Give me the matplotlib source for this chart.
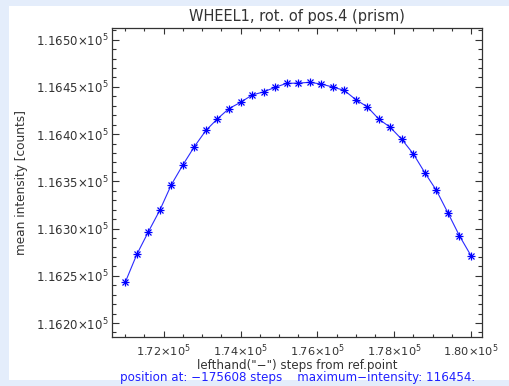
import matplotlib
matplotlib.use("Agg")
import matplotlib.pyplot as plt
from matplotlib.patches import Rectangle
from matplotlib.ticker import MultipleLocator, FuncFormatter

# ---- data ----
steps = [171000 + 300 * i for i in range(31)]
intensity = [116243.2, 116272.6, 116296.5, 116319.5, 116346.5, 116367.4,
             116386.8, 116403.9, 116416.2, 116427.0, 116433.6, 116441.3,
             116444.7, 116449.5, 116453.7, 116454.0, 116454.8, 116453.0,
             116449.8, 116446.3, 116436.5, 116428.9, 116415.9, 116407.1,
             116394.4, 116379.0, 116359.0, 116340.4, 116316.6, 116292.3,
             116271.3]
title = "WHEEL1, rot. of pos.4 (prism)"
xlabel = 'lefthand("\u2212") steps from ref.point'
ylabel = "mean intensity [counts]"
footer = "position at: \u2212175608 steps    maximum\u2212intensity: 116454."

W, H = 510, 386
fig = plt.figure(figsize=(W / 100, H / 100), dpi=100)
fig.patch.set_facecolor("#e4edfb")
fig.patches.append(Rectangle((9 / W, 1 - 380 / H), (W - 9) / W, (380 - 6) / H,
                             transform=fig.transFigure, facecolor="white",
                             edgecolor="none", zorder=-10))

l, r, t, b = 112.3, 481.7, 28.3, 336.7
ax = fig.add_axes([l / W, 1 - b / H, (r - l) / W, (b - t) / H])
ax.set_facecolor("white")

ax.plot(steps, intensity, color="#2a2aff", lw=0.8, zorder=2)
ax.plot(steps, intensity, ls="none", marker="+", ms=5.5, mew=0.9, color="#0000ff", zorder=3)
ax.plot(steps, intensity, ls="none", marker="x", ms=4.2, mew=0.9, color="#0000ff", zorder=3)

ax.set_xlim(170662, 180279)
ax.set_ylim(116185.5, 116512)

ax.xaxis.set_major_locator(MultipleLocator(2000))
ax.xaxis.set_minor_locator(MultipleLocator(500))
ax.yaxis.set_major_locator(MultipleLocator(50))
ax.yaxis.set_minor_locator(MultipleLocator(10))

def xfmt(v, pos):
    return r"$%.2f{\times}10^{5}$" % (v / 1e5)

def yfmt(v, pos):
    return r"$%.4f{\times}10^{5}$" % (v / 1e5)

ax.xaxis.set_major_formatter(FuncFormatter(xfmt))
ax.yaxis.set_major_formatter(FuncFormatter(yfmt))

tc = "#333333"
ax.tick_params(axis="both", which="both", direction="in", top=True, right=True,
               color=tc, width=0.8, labelsize=8.5, labelcolor="#333333")
ax.tick_params(axis="x", which="major", length=4.5, pad=4, labelsize=8.2)
ax.tick_params(axis="x", which="minor", length=2.2)
ax.tick_params(axis="y", which="major", length=5.3, pad=3)
ax.tick_params(axis="y", which="minor", length=2.6)
for s in ax.spines.values():
    s.set_color(tc)
    s.set_linewidth(0.9)

fig.text((l + r) / 2 / W, 1 - 17 / H, title, ha="center", va="center",
         fontsize=10.5, color="#333333")
fig.text((l + r) / 2 / W, 1 - 366 / H, xlabel, ha="center", va="center",
         fontsize=8.6, color="#333333")
fig.text(22 / W, 1 - 182.5 / H, ylabel, ha="center", va="center", rotation=90,
         fontsize=8.7, color="#333333")
fig.text(298 / W, 1 - 378 / H, footer, ha="center", va="center",
         fontsize=8.6, color="#2020ff")

fig.savefig("out.png", dpi=100, facecolor=fig.get_facecolor())
